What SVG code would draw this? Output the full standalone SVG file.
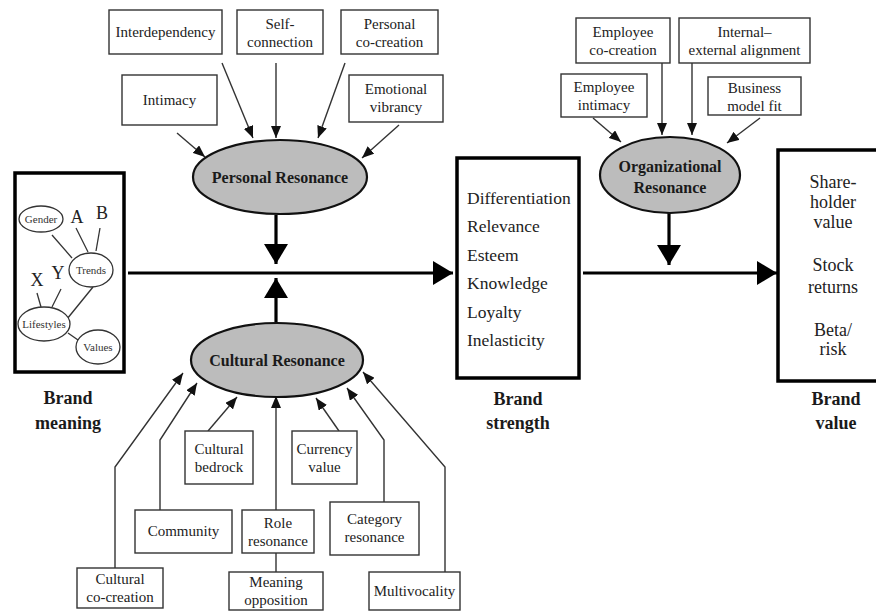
<svg xmlns="http://www.w3.org/2000/svg" width="876" height="612" viewBox="0 0 876 612">
  <defs>
    <marker id="tip" viewBox="0 0 12 10" refX="12" refY="5" markerWidth="12" markerHeight="10" markerUnits="userSpaceOnUse" orient="auto">
      <path d="M0,0 L12,5 L0,10 Z" fill="#111"/>
    </marker>
    <marker id="bigtip" viewBox="0 0 20 24" refX="20" refY="12" markerWidth="20" markerHeight="24" markerUnits="userSpaceOnUse" orient="auto">
      <path d="M0,0 L20,12 L0,24 Z" fill="#000"/>
    </marker>
  </defs>
  <style>
    text { font-family: "Liberation Serif", "Times New Roman", serif; fill: #222; }
    .box rect { fill: #fff; stroke: #333; stroke-width: 1.4; }
    .box text { font-size: 15px; text-anchor: middle; }
    .big rect { fill: #fff; stroke: #000; stroke-width: 3.5; }
    .res ellipse { fill: #bcbcbc; stroke: #111; stroke-width: 2.2; }
    .res text { font-size: 16px; font-weight: bold; text-anchor: middle; fill: #1a1a1a; }
    .label { font-size: 18px; font-weight: bold; text-anchor: middle; fill: #1a1a1a; }
    .item { font-size: 17.5px; }
    .val { font-size: 18px; text-anchor: middle; }
    .thin { fill: none; stroke: #333; stroke-width: 1.4; marker-end: url(#tip); }
    .plain { fill: none; stroke: #333; stroke-width: 1.4; }
    .thick { fill: none; stroke: #000; stroke-width: 3.2; marker-end: url(#bigtip); }
    .mini ellipse { fill: #fff; stroke: #333; stroke-width: 1.3; }
    .mini text { font-size: 11px; text-anchor: middle; fill: #333; }
    .mini line { stroke: #333; stroke-width: 1.3; }
    .letter { font-size: 18px; text-anchor: middle; fill: #222; }
  </style>

  <rect width="876" height="612" fill="#fff"/>

  <!-- connectors -->
  <g id="connectors">
    <!-- personal resonance inputs -->
    <line class="thin" x1="177" y1="133" x2="205" y2="157"/>
    <line class="thin" x1="222" y1="63" x2="253" y2="138"/>
    <line class="thin" x1="276" y1="63" x2="276" y2="138"/>
    <line class="thin" x1="345" y1="63" x2="318" y2="138"/>
    <line class="thin" x1="399" y1="125" x2="362" y2="158"/>
    <!-- organizational resonance inputs -->
    <line class="thin" x1="593" y1="118" x2="621" y2="142"/>
    <line class="thin" x1="662" y1="63" x2="662" y2="135"/>
    <line class="thin" x1="692" y1="63" x2="692" y2="135"/>
    <line class="thin" x1="760" y1="118" x2="727" y2="143"/>
    <!-- cultural resonance inputs -->
    <polyline class="thin" points="115,568 115,467 183,373"/>
    <polyline class="thin" points="160,510 160,440 197,383"/>
    <line class="thin" x1="208" y1="431" x2="237" y2="397"/>
    <line class="thin" x1="276" y1="510" x2="276" y2="396"/>
    <line class="plain" x1="276" y1="572" x2="276" y2="553"/>
    <line class="thin" x1="339" y1="431" x2="316" y2="398"/>
    <polyline class="thin" points="384,502 384,440 347,388"/>
    <polyline class="thin" points="445,572 445,467 363,372"/>
    <!-- main flow -->
    <line class="thick" x1="128" y1="273" x2="453" y2="273"/>
    <line class="thick" x1="583" y1="273" x2="777" y2="273"/>
    <line class="thick" x1="276" y1="215" x2="276" y2="264"/>
    <line class="thick" x1="276" y1="322" x2="276" y2="278"/>
    <line class="thick" x1="669" y1="213" x2="669" y2="265"/>
  </g>

  <!-- personal resonance drivers -->
  <g id="interdependency" class="box"><rect x="109" y="10" width="113" height="44"/><text x="165.5" y="37">Interdependency</text></g>
  <g id="self-connection" class="box"><rect x="237" y="10" width="86" height="44"/><text x="280" y="29">Self-</text><text x="280" y="47">connection</text></g>
  <g id="personal-co-creation" class="box"><rect x="341" y="10" width="97" height="44"/><text x="389.5" y="29">Personal</text><text x="389.5" y="47">co-creation</text></g>
  <g id="intimacy" class="box"><rect x="122" y="75" width="95" height="50"/><text x="169.5" y="105">Intimacy</text></g>
  <g id="emotional-vibrancy" class="box"><rect x="349" y="75" width="94" height="47"/><text x="396" y="94">Emotional</text><text x="396" y="112">vibrancy</text></g>

  <g id="personal-resonance" class="res">
    <ellipse cx="280" cy="177" rx="87" ry="37"/>
    <text x="280" y="183">Personal Resonance</text>
  </g>

  <!-- brand meaning -->
  <g id="brand-meaning">
    <g class="big"><rect x="15" y="173" width="109" height="199"/></g>
    <g class="mini">
      <line x1="52" y1="235" x2="72" y2="258"/>
      <line x1="76" y1="228" x2="88" y2="252"/>
      <line x1="100" y1="228" x2="96" y2="251"/>
      <line x1="37" y1="293" x2="41" y2="307"/>
      <line x1="61" y1="289" x2="52" y2="307"/>
      <line x1="93" y1="287" x2="67" y2="319"/>
      <line x1="68" y1="333" x2="78" y2="340"/>
      <ellipse cx="41" cy="219" rx="22" ry="13"/>
      <text x="41" y="223">Gender</text>
      <ellipse cx="91" cy="270" rx="22" ry="17"/>
      <text x="91" y="274">Trends</text>
      <ellipse cx="44" cy="324" rx="26" ry="17"/>
      <text x="44" y="328">Lifestyles</text>
      <ellipse cx="98" cy="347" rx="22" ry="17"/>
      <text x="98" y="351">Values</text>
    </g>
    <text class="letter" x="77" y="223">A</text>
    <text class="letter" x="102" y="219">B</text>
    <text class="letter" x="37" y="286">X</text>
    <text class="letter" x="58" y="279">Y</text>
    <text class="label" x="68" y="404">Brand</text>
    <text class="label" x="68" y="429">meaning</text>
  </g>

  <g id="cultural-resonance" class="res">
    <ellipse cx="277" cy="360" rx="86" ry="37"/>
    <text x="277" y="366">Cultural Resonance</text>
  </g>

  <!-- cultural resonance drivers -->
  <g id="cultural-bedrock" class="box"><rect x="185" y="431" width="68" height="53"/><text x="219" y="454">Cultural</text><text x="219" y="472">bedrock</text></g>
  <g id="currency-value" class="box"><rect x="292" y="431" width="65" height="53"/><text x="324.5" y="454">Currency</text><text x="324.5" y="472">value</text></g>
  <g id="community" class="box"><rect x="135" y="510" width="97" height="43"/><text x="183.5" y="536">Community</text></g>
  <g id="role-resonance" class="box"><rect x="242" y="510" width="72" height="43"/><text x="278" y="528">Role</text><text x="278" y="546">resonance</text></g>
  <g id="category-resonance" class="box"><rect x="330" y="502" width="89" height="53"/><text x="374.5" y="524">Category</text><text x="374.5" y="542">resonance</text></g>
  <g id="cultural-co-creation" class="box"><rect x="77" y="568" width="86" height="40"/><text x="120" y="584">Cultural</text><text x="120" y="602">co-creation</text></g>
  <g id="meaning-opposition" class="box"><rect x="229" y="572" width="94" height="38"/><text x="276" y="587">Meaning</text><text x="276" y="605">opposition</text></g>
  <g id="multivocality" class="box"><rect x="369" y="572" width="91" height="38"/><text x="414.5" y="596">Multivocality</text></g>

  <!-- brand strength -->
  <g id="brand-strength">
    <g class="big"><rect x="457" y="158" width="122" height="220"/></g>
    <text class="item" x="467" y="204">Differentiation</text>
    <text class="item" x="467" y="232">Relevance</text>
    <text class="item" x="467" y="261">Esteem</text>
    <text class="item" x="467" y="289">Knowledge</text>
    <text class="item" x="467" y="318">Loyalty</text>
    <text class="item" x="467" y="346">Inelasticity</text>
    <text class="label" x="518" y="405">Brand</text>
    <text class="label" x="518" y="429">strength</text>
  </g>

  <!-- organizational resonance drivers -->
  <g id="employee-co-creation" class="box"><rect x="576" y="18" width="94" height="45"/><text x="623" y="37">Employee</text><text x="623" y="55">co-creation</text></g>
  <g id="internal-external-alignment" class="box"><rect x="679" y="18" width="131" height="45"/><text x="744.5" y="37">Internal–</text><text x="744.5" y="55">external alignment</text></g>
  <g id="employee-intimacy" class="box"><rect x="561" y="74" width="86" height="43"/><text x="604" y="92">Employee</text><text x="604" y="110">intimacy</text></g>
  <g id="business-model-fit" class="box"><rect x="708" y="77" width="93" height="38"/><text x="754.5" y="93">Business</text><text x="754.5" y="111">model fit</text></g>

  <g id="organizational-resonance" class="res">
    <ellipse cx="670" cy="175" rx="70" ry="38"/>
    <text x="670" y="172">Organizational</text>
    <text x="670" y="193">Resonance</text>
  </g>

  <!-- brand value -->
  <g id="brand-value">
    <g class="big"><rect x="778" y="150" width="110" height="231"/></g>
    <text class="val" x="833" y="188">Share-</text>
    <text class="val" x="833" y="208">holder</text>
    <text class="val" x="833" y="228">value</text>
    <text class="val" x="833" y="271">Stock</text>
    <text class="val" x="833" y="293">returns</text>
    <text class="val" x="833" y="336">Beta/</text>
    <text class="val" x="833" y="355">risk</text>
    <text class="label" x="836" y="405">Brand</text>
    <text class="label" x="836" y="429">value</text>
  </g>
</svg>
